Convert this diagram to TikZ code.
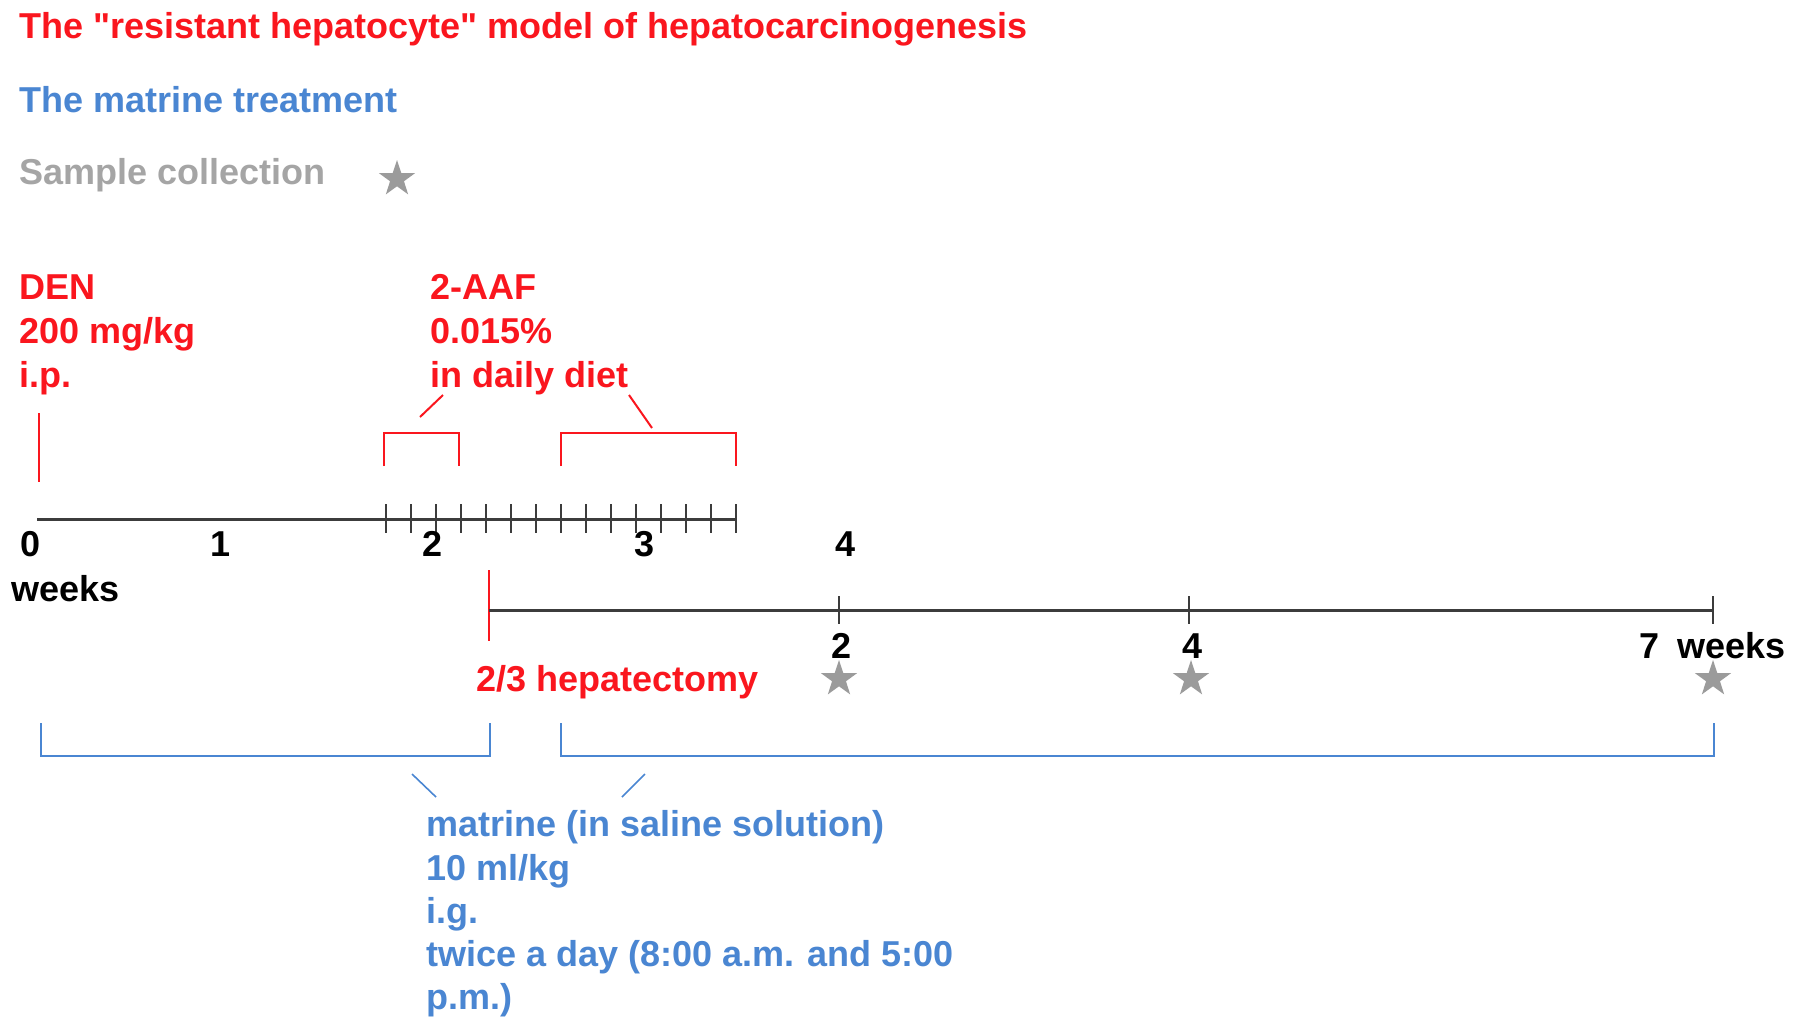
\documentclass[tikz,border=0pt]{standalone}
\usepackage{fontspec}
\setmainfont{Liberation Sans}[Ligatures=TeXOff]
\usetikzlibrary{shapes.geometric}
\definecolor{myred}{RGB}{250,22,30}
\definecolor{myblue}{RGB}{74,134,210}
\definecolor{mygray}{RGB}{165,165,165}
\definecolor{stargray}{RGB}{155,155,155}
\definecolor{axisgray}{RGB}{60,60,60}
\newcommand\bigfs{\fontsize{36}{43}\selectfont}
\begin{document}
\begin{tikzpicture}[x=1pt,y=-1pt,
  lab/.style={inner sep=0pt, font=\bigfs\bfseries},
  redtxt/.style={lab, text=myred},
  bluetxt/.style={lab, text=myblue},
  blktxt/.style={lab, text=black},
  axis/.style={draw=axisgray, line width=3pt},
  tickmark/.style={draw=axisgray, line width=1.4pt},
  redline/.style={draw=myred, line width=2pt},
  blueline/.style={draw=myblue, line width=1.6pt},
  starmark/.style={star, star points=5, star point ratio=2.6, fill=stargray, draw=none, minimum size=38pt, inner sep=0pt}]
\useasboundingbox[fill=white] (0,0) rectangle (1795,1029);

% legend
\node[redtxt, anchor=base west] (title) at (19,38) {The "resistant hepatocyte" model of hepatocarcinogenesis};
\node[bluetxt, anchor=base west] (leg2) at (19,112) {The matrine treatment};
\node[lab, text=mygray, anchor=base west] (leg3) at (19,184) {Sample collection};
\node[starmark] (legstar) at (397,179) {};

% DEN
\node[redtxt, anchor=base west] (den1) at (19,299) {DEN};
\node[redtxt, anchor=base west] (den2) at (19,343) {200 mg/kg};
\node[redtxt, anchor=base west] (den3) at (19,387) {i.p.};
\coordinate (denA) at (39,413);
\coordinate (denB) at (39,482);
\draw[draw=myred, line width=2pt] (denA) -- (denB);

% 2-AAF
\node[redtxt, anchor=base west] (aaf1) at (430,299) {2-AAF};
\node[redtxt, anchor=base west] (aaf2) at (430,343) {0.015\%};
\node[redtxt, anchor=base west] (aaf3) at (430,387) {in daily diet};

% first timeline
\coordinate (ta) at (37,519);
\coordinate (tb) at (736,519);
\draw[axis] (ta) -- (tb);
\foreach \i in {0,...,14} \draw[tickmark] ({386+25*\i},504) -- ({386+25*\i},533);

% red brackets
\coordinate (b1a) at (384,466);
\coordinate (b1b) at (459,433);
\coordinate (b2a) at (561,466);
\coordinate (b2b) at (736,433);
\draw[redline] (b1a) |- (b1b) -- (459,466);
\draw[redline] (b2a) |- (b2b) -- (736,466);
\coordinate (l1a) at (420,417);
\coordinate (l1b) at (443,395);
\coordinate (l2a) at (629,395);
\coordinate (l2b) at (652,428);
\draw[redline] (l1a) -- (l1b);
\draw[redline] (l2a) -- (l2b);

% labels of first timeline
\node[blktxt, anchor=base] (w0) at (31,556) {0};
\node[blktxt, anchor=base] (w1) at (221,556) {1};
\node[blktxt, anchor=base] (w2) at (433,556) {2};
\node[blktxt, anchor=base] (w3) at (645,556) {3};
\node[blktxt, anchor=base] (w4) at (845,556) {4};
\node[blktxt, anchor=base west] (wk) at (11,601) {weeks};

% hepatectomy and second timeline
\coordinate (hA) at (489,570);
\coordinate (hB) at (489,641);
\draw[draw=myred, line width=1.6pt] (hA) -- (hB);
\coordinate (sa) at (489,610);
\coordinate (sb) at (1713,610);
\draw[axis] (sa) -- (sb);
\draw[tickmark] (839,596) -- (839,624);
\draw[tickmark] (1189,596) -- (1189,624);
\draw[tickmark] (1713,596) -- (1713,624);
\node[blktxt, anchor=base] (v2) at (841,658) {2};
\node[blktxt, anchor=base] (v4) at (1192,658) {4};
\node[blktxt, anchor=base] (v7) at (1649,658) {7};
\node[blktxt, anchor=base west] (vwk) at (1677,658) {weeks};
\node[redtxt, anchor=base west] (hep) at (476,691) {2/3 hepatectomy};
\node[starmark] (s1) at (839,679) {};
\node[starmark] (s2) at (1191,679) {};
\node[starmark] (s3) at (1713,679) {};

% blue brackets
\coordinate (c1a) at (41,723);
\coordinate (c1b) at (490,756);
\coordinate (c2a) at (561,723);
\coordinate (c2b) at (1714,756);
\draw[blueline] (c1a) |- (c1b) -- (490,723);
\draw[blueline] (c2a) |- (c2b) -- (1714,723);
\coordinate (m1a) at (412,774);
\coordinate (m1b) at (436,797);
\coordinate (m2a) at (622,797);
\coordinate (m2b) at (645,774);
\draw[blueline] (m1a) -- (m1b);
\draw[blueline] (m2a) -- (m2b);

% matrine text
\node[bluetxt, anchor=base west] (mt1) at (426,836) {matrine (in saline solution)};
\node[bluetxt, anchor=base west] (mt2) at (426,880) {10 ml/kg};
\node[bluetxt, anchor=base west] (mt3) at (426,923) {i.g.};
\node[bluetxt, anchor=base west] (mt4) at (426,966) {twice a day (8:00 a.m. and 5:00};
\node[bluetxt, anchor=base west] (mt5) at (426,1009) {p.m.)};
\end{tikzpicture}
\end{document}
